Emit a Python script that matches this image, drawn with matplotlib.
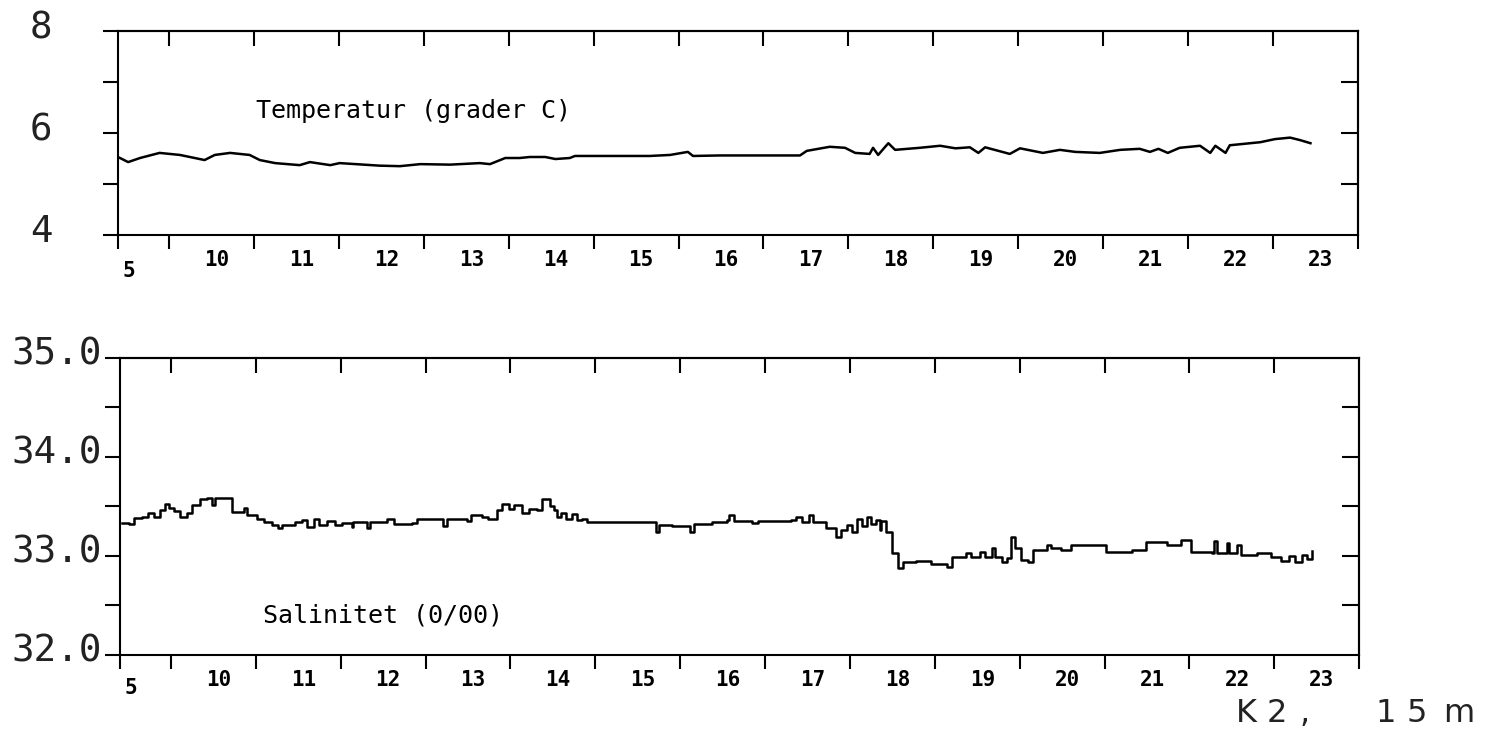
import matplotlib
matplotlib.use("Agg")
import matplotlib.pyplot as plt
from matplotlib.transforms import ScaledTranslation

# ---- time axis (day of month, month 5) ----
day_start, day_end = 9.4, 24.0
day_numbers = list(range(10, 24))
month_label = "5"

# ---- temperature (deg C) ----
temp_days = [9.40, 9.52, 9.66, 9.89, 10.13, 10.42, 10.54, 10.72, 10.95, 11.07,
             11.25, 11.54, 11.66, 11.90, 12.01, 12.48, 12.72, 12.96, 13.31, 13.66,
             13.78, 13.90, 13.96, 14.13, 14.25, 14.43, 14.55, 14.72, 14.78, 15.08,
             15.66, 15.90, 16.11, 16.17, 16.49, 17.43, 17.51, 17.78, 17.96, 18.08,
             18.25, 18.29, 18.35, 18.47, 18.55, 18.84, 19.08, 19.26, 19.43, 19.53,
             19.61, 19.90, 20.02, 20.29, 20.49, 20.67, 20.96, 21.20, 21.43, 21.55,
             21.65, 21.76, 21.90, 22.14, 22.26, 22.32, 22.44, 22.49, 22.61, 22.85,
             23.02, 23.20, 23.32, 23.44]
temp_vals = [5.53, 5.43, 5.51, 5.61, 5.57, 5.47, 5.57, 5.61, 5.57, 5.47,
             5.41, 5.37, 5.43, 5.37, 5.41, 5.36, 5.35, 5.39, 5.38, 5.41,
             5.39, 5.47, 5.51, 5.51, 5.53, 5.53, 5.49, 5.51, 5.55, 5.55,
             5.55, 5.57, 5.63, 5.55, 5.56, 5.56, 5.65, 5.73, 5.71, 5.61,
             5.59, 5.71, 5.57, 5.80, 5.67, 5.71, 5.75, 5.70, 5.72, 5.61,
             5.72, 5.59, 5.70, 5.61, 5.67, 5.63, 5.61, 5.67, 5.69, 5.63,
             5.69, 5.61, 5.71, 5.75, 5.61, 5.75, 5.61, 5.76, 5.78, 5.82,
             5.88, 5.91, 5.86, 5.80]

# ---- salinity (0/00) ----
sal_days = [9.42, 9.51, 9.56, 9.66, 9.73, 9.80, 9.87, 9.93, 9.98, 10.04,
            10.11, 10.19, 10.25, 10.34, 10.42, 10.48, 10.52, 10.69, 10.72, 10.84,
            10.86, 10.89, 11.01, 11.10, 11.19, 11.26, 11.31, 11.42, 11.46, 11.54,
            11.60, 11.68, 11.75, 11.84, 11.93, 12.01, 12.13, 12.15, 12.31, 12.34,
            12.54, 12.63, 12.84, 12.90, 13.20, 13.21, 13.25, 13.49, 13.54, 13.66,
            13.74, 13.84, 13.90, 13.98, 14.04, 14.13, 14.22, 14.31, 14.37, 14.43,
            14.47, 14.51, 14.55, 14.60, 14.66, 14.72, 14.78, 14.84, 14.90, 15.72,
            15.75, 15.90, 16.11, 16.16, 16.37, 16.55, 16.58, 16.63, 16.84, 16.92,
            17.14, 17.31, 17.37, 17.43, 17.52, 17.57, 17.72, 17.84, 17.90, 17.96,
            18.02, 18.08, 18.14, 18.20, 18.25, 18.31, 18.35, 18.37, 18.42, 18.49,
            18.57, 18.63, 18.78, 18.96, 19.14, 19.20, 19.31, 19.37, 19.43, 19.53,
            19.59, 19.67, 19.71, 19.79, 19.85, 19.90, 19.94, 20.02, 20.10, 20.16,
            20.32, 20.37, 20.49, 20.61, 20.85, 21.02, 21.32, 21.49, 21.73, 21.90,
            22.02, 22.26, 22.29, 22.33, 22.44, 22.47, 22.56, 22.61, 22.79, 22.96,
            23.08, 23.17, 23.24, 23.32, 23.38, 23.44]
sal_vals = [33.33, 33.32, 33.38, 33.39, 33.43, 33.39, 33.46, 33.53, 33.48, 33.45,
            33.39, 33.43, 33.51, 33.58, 33.59, 33.51, 33.59, 33.59, 33.44, 33.44,
            33.48, 33.41, 33.37, 33.34, 33.31, 33.28, 33.31, 33.31, 33.34, 33.36,
            33.29, 33.37, 33.31, 33.35, 33.31, 33.33, 33.29, 33.34, 33.28, 33.34,
            33.37, 33.32, 33.33, 33.37, 33.37, 33.30, 33.37, 33.35, 33.41, 33.39,
            33.37, 33.46, 33.53, 33.47, 33.51, 33.43, 33.47, 33.46, 33.58, 33.58,
            33.50, 33.46, 33.39, 33.43, 33.37, 33.42, 33.36, 33.37, 33.34, 33.24,
            33.31, 33.30, 33.24, 33.32, 33.34, 33.36, 33.41, 33.35, 33.33, 33.35,
            33.35, 33.36, 33.39, 33.34, 33.41, 33.34, 33.28, 33.19, 33.26, 33.31,
            33.24, 33.37, 33.30, 33.39, 33.32, 33.36, 33.26, 33.35, 33.24, 33.03,
            32.88, 32.94, 32.95, 32.92, 32.89, 32.99, 32.99, 33.03, 32.99, 33.04,
            32.99, 33.08, 32.99, 32.94, 32.98, 33.19, 33.08, 32.96, 32.94, 33.06,
            33.11, 33.08, 33.06, 33.11, 33.11, 33.04, 33.06, 33.14, 33.11, 33.16,
            33.04, 33.03, 33.15, 33.03, 33.13, 33.03, 33.11, 33.01, 33.03, 32.99,
            32.95, 33.00, 32.94, 33.01, 32.97, 33.05]

LW = 1.5
MONO = "DejaVu Sans Mono"

fig = plt.figure(figsize=(14.93, 7.39), dpi=100)
fig.patch.set_facecolor("white")


def style_panel(ax, ylim, yticks, ylabels, right_ticks, ypad, month_y):
    ax.set_xlim(day_start, day_end)
    ax.set_ylim(*ylim)
    for sp in ax.spines.values():
        sp.set_linewidth(LW)

    # bottom axis: day boundaries outward, day labels at midday
    ax.set_xticks([day_start] + day_numbers + [day_end])
    ax.set_xticklabels([])
    ax.set_xticks([d + 0.56 for d in day_numbers], minor=True)
    ax.set_xticklabels([str(d) for d in day_numbers], minor=True,
                       fontfamily=MONO, fontweight="bold", fontsize=15)
    ax.tick_params(axis="x", which="major", direction="out", length=10,
                   width=LW, top=False)
    ax.tick_params(axis="x", which="minor", length=0, pad=11, top=False)

    # left axis: outward ticks with large labels
    ax.set_yticks(yticks)
    ax.set_yticklabels(ylabels, fontfamily=MONO, fontsize=27, color="#222222")
    ax.tick_params(axis="y", which="major", direction="out", length=11,
                   width=LW, pad=ypad, right=False)
    shift = ScaledTranslation(0, 0.07, fig.dpi_scale_trans)
    for t in ax.yaxis.get_major_ticks():
        t.label1.set_transform(t.label1.get_transform() + shift)

    # top axis: inward day boundary ticks
    top = ax.secondary_xaxis("top")
    top.set_xticks(day_numbers)
    top.set_xticklabels([])
    top.tick_params(direction="in", length=11, width=LW)
    top.spines["top"].set_linewidth(LW)

    # right axis: inward ticks
    right = ax.secondary_yaxis("right")
    right.set_yticks(right_ticks)
    right.set_yticklabels([])
    right.tick_params(direction="in", length=12, width=LW)
    right.spines["right"].set_linewidth(LW)

    ax.text(9.53, month_y, month_label, transform=ax.get_xaxis_transform(),
            ha="center", va="center", fontfamily=MONO, fontweight="bold",
            fontsize=15)


# ---- temperature panel ----
ax1 = fig.add_axes([0.0790, 0.682, 0.8306, 0.276])
ax1.plot(temp_days, temp_vals, color="black", lw=1.8)
style_panel(ax1, (4, 8), [4, 5, 6, 7, 8], ["4", "", "6", "", "8"],
            [5, 6, 7], ypad=36, month_y=-0.176)
ax1.text(0.111, 0.574, "Temperatur (grader C)", transform=ax1.transAxes,
         ha="left", va="baseline", fontfamily=MONO, fontsize=18)

# ---- salinity panel ----
ax2 = fig.add_axes([0.0804, 0.1137, 0.8300, 0.4019])
ax2.plot(sal_days, sal_vals, color="black", lw=1.8, drawstyle="steps-post")
style_panel(ax2, (32, 35), [32.0, 32.5, 33.0, 33.5, 34.0, 34.5, 35.0],
            ["32.0", "", "33.0", "", "34.0", "", "35.0"],
            [32.5, 33.0, 33.5, 34.0, 34.5], ypad=2, month_y=-0.111)
ax2.text(0.1154, 0.108, "Salinitet (0/00)", transform=ax2.transAxes,
         ha="left", va="baseline", fontfamily=MONO, fontsize=18)

# ---- station / depth caption, wide letter spacing ----
caption = [("K", 1246), ("2", 1277), (",", 1305), ("1", 1386), ("5", 1417), ("m", 1459)]
for ch, px in caption:
    fig.text(px / 1493, 1 - 722 / 739, ch, ha="center", va="baseline",
             fontfamily="DejaVu Sans", fontsize=23, color="#222222")

fig.savefig("out.png", dpi=100, facecolor="white")
